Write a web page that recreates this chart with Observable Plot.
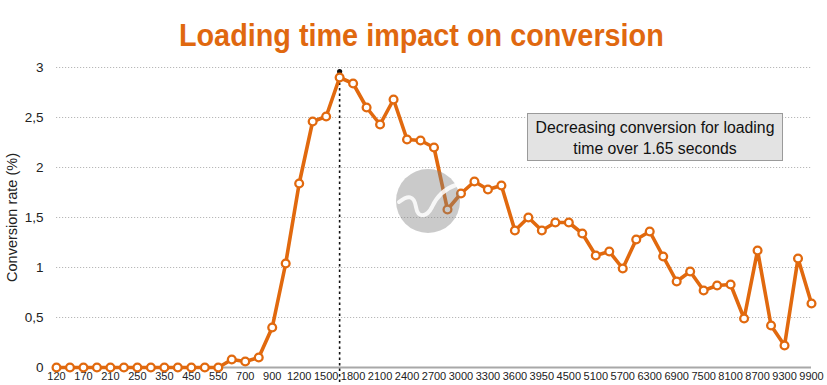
<!DOCTYPE html>
<html>
<head>
<meta charset="utf-8">
<script src="https://cdn.jsdelivr.net/npm/d3@7"></script>
<script src="https://cdn.jsdelivr.net/npm/@observablehq/plot@0.6"></script>
<style>
  html, body { margin: 0; padding: 0; background: white; }
  #wrap { position: relative; width: 827px; height: 385px; overflow: hidden; font-family: "Liberation Sans", Arial, sans-serif; }
  #title { box-sizing: border-box; height: 52px; padding-top: 19px; padding-left: 16px; text-align: center;
    font-family: "Liberation Sans", Arial, sans-serif;
    font-weight: bold; font-size: 32px; line-height: 1; color: #e0680f; white-space: nowrap; }
  #title span { display: inline-block; transform: scaleX(0.9); transform-origin: center; }
  #note { position: absolute; left: 527px; top: 113px; width: 256px; height: 48px; box-sizing: border-box;
    background: #e3e3e3; border: 1px solid #9a9a9a; text-align: center; font-size: 15.8px; line-height: 21px;
    padding-top: 3px; color: #111; white-space: nowrap; }
  #mark { position: absolute; left: 396px; top: 169px; }
</style>
</head>
<body>
<div id="wrap">
  <div id="title"><span>Loading time impact on conversion</span></div>
  <div id="chart"></div>
  <div id="note">Decreasing conversion for loading<br>time over 1.65 seconds</div>
  <svg id="mark" width="64" height="64" viewBox="0 0 64 64">
    <circle cx="32" cy="32" r="32" fill="#808080" fill-opacity="0.42"></circle>
    <path d="M 3 33 C 12 26, 18 26, 20 38 C 22 50, 31 48, 36 38 C 41 27, 48 20, 60 16" fill="none" stroke="white" stroke-opacity="0.85" stroke-width="4" stroke-linecap="round"></path>
  </svg>
</div>
<script>
// Loading time categories (ms); every other one is labelled on the axis
const loadingTimes = ["120","150","170","190","210","230","250","300","350","400",
  "450","500","550","600","700","800","900","1050","1200","1350",
  "1500","1650","1800","1950","2100","2250","2400","2550","2700","2850",
  "3000","3150","3300","3450","3600","3775","3950","4200","4500","4800",
  "5100","5400","5700","6000","6300","6600","6900","7200","7500","7800",
  "8100","8400","8700","9000","9300","9600","9900"];
// Conversion rate (%)
const conversionRates = [0,0,0,0,0,0,0,0,0,0,0,0,0,
  0.08,0.06,0.10,0.40,1.04,1.84,2.46,2.51,2.90,2.84,
  2.60,2.43,2.68,2.28,2.27,2.20,1.58,1.74,1.86,1.78,
  1.82,1.37,1.50,1.37,1.45,1.45,1.34,1.12,1.16,0.99,
  1.28,1.36,1.11,0.86,0.96,0.77,0.82,0.83,0.49,1.17,
  0.42,0.22,1.09,0.64];
const yTicks = [0, 0.5, 1, 1.5, 2, 2.5, 3];
const yLabel = "Conversion rate (%)";

// position index along the category axis; labels shown on every other category
const data = loadingTimes.map((t, i) => ({i, t, v: conversionRates[i]}));
const xTickIndex = data.filter(d => d.i % 2 === 0).map(d => d.i);
const peak = data.reduce((a, b) => (b.v > a.v ? b : a));

const orange = "#e1690e";

const chart = Plot.plot({
  width: 827,
  height: 333,
  marginTop: 15,
  marginBottom: 18,
  marginLeft: 56,
  marginRight: 16,
  style: {fontFamily: "Liberation Sans, Arial, sans-serif", background: "transparent", overflow: "visible"},
  x: {type: "linear", domain: [0, loadingTimes.length - 1]},
  y: {domain: [0, 3]},
  marks: [
    Plot.gridY(yTicks, {stroke: "#b8b8b8", strokeOpacity: 1, strokeDasharray: "1.2,1.8", strokeWidth: 1}),
    Plot.axisY({ticks: yTicks, tickSize: 0, tickPadding: 13, fontSize: 13.5, fill: "#222",
      tickFormat: d => String(d).replace(".", ","), label: null}),
    Plot.text([yLabel], {frameAnchor: "left", textAnchor: "middle", rotate: -90, dx: -44, fontSize: 14.5, fill: "#222", text: d => d}),
    Plot.axisX({ticks: xTickIndex, tickSize: 0, tickPadding: 5, fontSize: 11, fill: "#222", label: null,
      tickFormat: i => loadingTimes[i]}),
    Plot.ruleY([0], {stroke: "#a8a8a8", strokeWidth: 2}),
    Plot.ruleX([peak], {x: "i", y1: -0.15, y2: d => d.v + 0.06, stroke: "#111", strokeWidth: 1.6, strokeDasharray: "2.5,3"}),
    Plot.dot([peak], {x: "i", y: d => d.v + 0.06, r: 2.6, fill: "#111"}),
    Plot.line(data, {x: "i", y: "v", stroke: orange, strokeWidth: 3.6, strokeLinejoin: "round"}),
    Plot.dot(data, {x: "i", y: "v", r: 3.9, fill: "white", stroke: orange, strokeWidth: 2.3})
  ]
});
document.getElementById("chart").appendChild(chart);
</script>
</body>
</html>
